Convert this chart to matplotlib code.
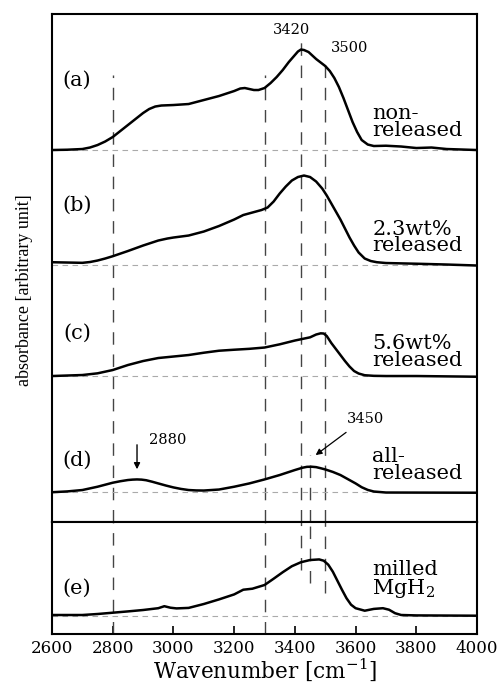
import numpy as np
import matplotlib.pyplot as plt

plt.rcParams['font.family'] = 'DejaVu Serif'
plt.rcParams['mathtext.fontset'] = 'dejavuserif'

# spectra (height above each baseline, arbitrary units)
wn_a = [2600, 2650, 2700, 2725, 2750, 2775, 2800, 2825, 2850, 2875, 2900, 2920, 2940, 2960, 3000,
        3050, 3100, 3150, 3200, 3220, 3235, 3250, 3265, 3280, 3300, 3320, 3340, 3360, 3380, 3400,
        3410, 3420, 3430, 3445, 3470, 3500, 3515, 3530, 3545, 3560, 3575, 3590, 3605, 3620, 3640,
        3660, 3700, 3750, 3800, 3850, 3900, 3950, 4000]
abs_a = [0, 0.3, 1, 2.5, 5, 8.5, 13, 19, 25, 31, 37, 41, 43.5, 44.5, 45,
         46, 50, 54, 59, 61.5, 62, 61, 60, 60, 62, 67, 73, 80, 88, 95,
         98.5, 100.5, 100, 98, 91, 84, 79, 72, 63, 52, 40, 28, 18, 10, 5.5,
         4, 4.3, 3.5, 2, 2.5, 1, 0.5, 0]

wn_b = [2600, 2650, 2700, 2725, 2750, 2775, 2800, 2850, 2900, 2950, 2980, 3000, 3050, 3100, 3150,
        3200, 3230, 3260, 3290, 3310, 3330, 3350, 3370, 3390, 3410, 3430, 3450, 3470, 3490, 3505,
        3520, 3535, 3550, 3565, 3580, 3595, 3610, 3630, 3650, 3670, 3700, 3800, 3900, 4000]
abs_b = [2.3, 2, 1.7, 2.5, 4, 6, 8.3, 13.5, 19, 24, 26, 27, 29, 33, 38.5,
         45, 49.5, 52, 54.5, 57, 63, 71, 78, 84, 87.5, 89, 87.5, 83, 76, 69,
         61, 53, 45, 36, 27, 19, 12, 6, 3.5, 2.3, 1.5, 0.8, 0, -1]

wn_c = [2600, 2700, 2750, 2800, 2850, 2900, 2950, 3000, 3050, 3100, 3150, 3200, 3250, 3300, 3350,
        3400, 3450, 3470, 3485, 3495, 3505, 3520, 3535, 3550, 3565, 3580, 3595, 3610, 3630, 3660,
        3700, 3800, 4000]
abs_c = [0, 1, 2.7, 6, 11, 15, 18, 19.5, 21, 23.3, 25.3, 26.3, 27.2, 28.5, 31.7,
         35.5, 38.7, 41.5, 42.7, 42.5, 40, 33, 27, 21, 15, 9.5, 5, 2.5, 0.8, 0.2,
         0, 0, -0.7]

wn_d = [2600, 2650, 2700, 2750, 2800, 2825, 2850, 2865, 2880, 2895, 2910, 2930, 2950, 2975, 3000,
        3025, 3050, 3075, 3100, 3150, 3200, 3250, 3300, 3350, 3400, 3425, 3440, 3455, 3470, 3485,
        3500, 3525, 3550, 3575, 3600, 3620, 3640, 3660, 3700, 4000]
abs_d = [-0.5, 0.3, 1.7, 5, 9, 10.5, 11.7, 12.1, 12.3, 12.1, 11.5, 10, 8.3, 6.2, 4.3,
         2.8, 1.7, 1.3, 1.2, 2.2, 5, 8.3, 12.3, 16.7, 21.7, 24, 24.9, 25, 24.6, 23.5,
         22.3, 19.8, 16.7, 12.5, 8.3, 4.5, 1.8, 0.2, -0.8, -1]

wn_e = [2600, 2700, 2750, 2800, 2850, 2900, 2950, 2970, 2990, 3010, 3050, 3100, 3150, 3200, 3230,
        3260, 3300, 3330, 3360, 3390, 3420, 3450, 3480, 3495, 3510, 3525, 3540, 3555, 3570, 3585,
        3600, 3630, 3660, 3690, 3710, 3730, 3750, 3800, 4000]
abs_e = [0.7, 0.7, 1.7, 3, 4.3, 5.7, 7.5, 9.5, 8, 7.3, 7.8, 11.7, 16.3, 21.3, 26,
         27, 30.7, 37, 43.5, 49.5, 53.5, 55.7, 56.3, 55, 51, 44, 35, 26, 17.5, 11,
         7.5, 5, 6.8, 7.5, 6, 2.5, 0.7, 0.3, 0]

# stacking offsets for the upper panel
offsets = [372, 257.5, 146, 30.3]
offset_e = 18.3
panel_tags = ['(a)', '(b)', '(c)', '(d)']
sample_names = ['non-\nreleased', '2.3wt%\nreleased', '5.6wt%\nreleased', 'all-\nreleased']
marker_wn = [2800, 3300, 3420, 3450, 3500]

fig = plt.figure(figsize=(5.03, 6.84), dpi=100)
ax = fig.add_axes([0.1034, 0.2368, 0.845, 0.7427])
ax2 = fig.add_axes([0.1034, 0.0731, 0.845, 0.1637])

ax.set_xlim(2600, 4000)
ax.set_ylim(0, 508)
ax2.set_xlim(2600, 4000)
ax2.set_ylim(0, 112)

vdash = dict(color='#444444', lw=1.0, dashes=(9, 7))
gdash = dict(color='#aaaaaa', lw=0.8, dashes=(5, 4))

# vertical guide lines (top / bottom extents in each panel)
top_ext = {2800: (0, 447), 3300: (0, 447), 3420: (0, 482), 3450: (0, 67), 3500: (0, 464)}
bot_ext = {2800: (0, 112), 3300: (0, 112), 3420: (64, 112), 3450: (51, 112), 3500: (41, 112)}
for w in marker_wn:
    ax.plot([w, w], top_ext[w], **vdash)
    ax2.plot([w, w], bot_ext[w], **vdash)

wns = [wn_a, wn_b, wn_c, wn_d]
absb = [abs_a, abs_b, abs_c, abs_d]
for wn, ab, off in zip(wns, absb, offsets):
    ax.plot([2600, 4000], [off, off], **gdash)
    ax.plot(wn, np.array(ab) + off, color='black', lw=1.8, solid_joinstyle='round')

ax2.plot([2600, 4000], [offset_e, offset_e], **gdash)
ax2.plot(wn_e, np.array(abs_e) + offset_e, color='black', lw=1.8, solid_joinstyle='round')

# panel tags
for tag, y in zip(panel_tags, [442, 317, 189, 62]):
    ax.text(2682, y, tag, fontsize=15, ha='center', va='center')
ax2.text(2682, 46, '(e)', fontsize=15, ha='center', va='center')

# sample names
for name, y in zip(sample_names, [400, 284.5, 170, 57]):
    ax.text(3655, y, name, fontsize=15, ha='left', va='center', linespacing=0.85)
ax2.text(3655, 54, 'milled\n' + r'MgH$_2$', fontsize=15, ha='left', va='center', linespacing=0.85)

# peak annotations
ax.text(3390, 492, '3420', fontsize=10.5, ha='center', va='center')
ax.text(3581, 474, '3500', fontsize=10.5, ha='center', va='center')
ax.text(2980, 82, '2880', fontsize=10.5, ha='center', va='center')
ax.text(3632, 103, '3450', fontsize=10.5, ha='center', va='center')
ax.annotate('', xy=(2880, 50), xytext=(2880, 80),
            arrowprops=dict(arrowstyle='-|>', color='black', lw=1.0, mutation_scale=9))
ax.annotate('', xy=(3461, 65.3), xytext=(3576, 91.3),
            arrowprops=dict(arrowstyle='-|>', color='black', lw=0.9, mutation_scale=9))

for a in (ax, ax2):
    for s in a.spines.values():
        s.set_linewidth(1.5)
    a.set_yticks([])

ax.set_xticks([])
ax2.set_xticks(np.arange(2600, 4001, 200))
ax2.tick_params(axis='x', direction='in', length=6, width=1.2, labelsize=12, pad=4)

ax2.set_xlabel('Wavenumber [cm$^{-1}$]', fontsize=15.5, labelpad=0)
fig.text(0.048, 0.576, 'absorbance [arbitrary unit]', rotation=90, ha='center', va='center',
         fontsize=13, family='Liberation Serif')

fig.savefig('out.png', dpi=100)
